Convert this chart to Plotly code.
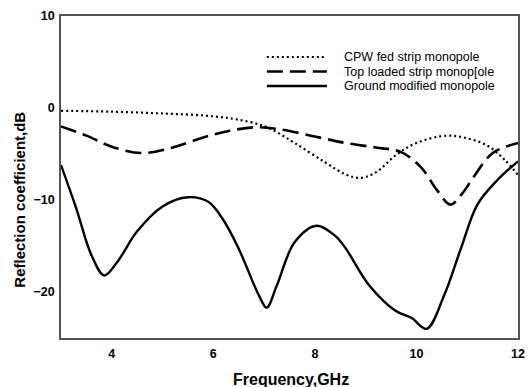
import plotly.graph_objects as go

# ---- data ----
cpw_x = [3.0, 4.0, 5.0, 6.0, 6.7, 7.1, 7.6, 8.2, 8.6, 8.9, 9.2, 9.6, 10.0, 10.6, 11.0, 11.4, 11.75, 12.0]
cpw_y = [-0.3, -0.4, -0.6, -0.9, -1.5, -2.2, -3.8, -5.9, -7.2, -7.6, -7.0, -5.1, -3.8, -3.0, -3.3, -4.1, -5.7, -7.3]

top_x = [3.0, 3.5, 4.0, 4.6, 5.2, 5.8, 6.3, 6.8, 7.3, 8.0, 8.6, 9.2, 9.7, 10.1, 10.4, 10.67, 10.9, 11.15, 11.5, 12.0]
top_y = [-2.0, -3.0, -4.2, -4.9, -4.3, -3.2, -2.5, -2.1, -2.3, -3.1, -3.8, -4.3, -4.8, -6.5, -8.9, -10.5, -9.3, -7.3, -4.9, -3.8]

gnd_x = [3.0, 3.3, 3.6, 3.85, 4.1, 4.5, 5.0, 5.5, 5.9, 6.2, 6.5, 6.9, 7.05, 7.25, 7.6, 8.03, 8.4, 8.6, 9.06, 9.58, 9.9, 10.2, 10.55, 10.88, 11.2, 11.6, 12.0]
gnd_y = [-6.2, -10.9, -16.0, -18.2, -16.8, -13.4, -10.7, -9.7, -10.2, -12.2, -15.3, -20.4, -21.7, -19.3, -14.6, -12.8, -13.9, -15.2, -19.2, -22.0, -22.8, -24.0, -20.3, -15.2, -10.5, -7.8, -5.8]

series_names = ["CPW fed strip monopole", "Top loaded strip monop[ole", "Ground modified monopole"]

x_ticks = [4, 6, 8, 10, 12]
y_ticks = [-20, -10, 0, 10]

FONT = "Arial, 'Liberation Sans', sans-serif"
DOT = "2px,3px"
DASH = "16px,7px"

fig = go.Figure()
fig.add_trace(go.Scatter(x=cpw_x, y=cpw_y, mode="lines", line=dict(color="black", width=2.2, dash=DOT, shape="spline", smoothing=1.0), showlegend=False))
fig.add_trace(go.Scatter(x=top_x, y=top_y, mode="lines", line=dict(color="black", width=2.6, dash=DASH, shape="spline", smoothing=1.0), showlegend=False))
fig.add_trace(go.Scatter(x=gnd_x, y=gnd_y, mode="lines", line=dict(color="black", width=2.4, shape="spline", smoothing=1.0), showlegend=False))

axis_common = dict(showgrid=False, zeroline=False, showline=True, mirror=True,
                   linecolor="#555555", linewidth=1.5, ticks="",
                   tickfont=dict(family=FONT, size=12.5, color="black", weight="bold"))

fig.update_xaxes(range=[3, 12], tickvals=x_ticks, ticklabelstandoff=3, **axis_common)
fig.update_yaxes(range=[-25, 10], tickvals=y_ticks, ticklabelstandoff=2, **axis_common)

# manual legend
W, H = 464.0, 322.0
def px_x(p):
    return (p - 61) / W
def px_y(p):
    return (338 - p) / H

leg_rows = [57, 71.5, 86]
leg_dash = [DOT, DASH, "solid"]
leg_w = [2.2, 2.6, 2.4]
shapes = []
annotations = []
for name, row, d, w in zip(series_names, leg_rows, leg_dash, leg_w):
    shapes.append(dict(type="line", xref="paper", yref="paper",
                       x0=px_x(270), x1=px_x(331), y0=px_y(row), y1=px_y(row),
                       line=dict(color="black", width=w, dash=d)))
    annotations.append(dict(text=name, xref="paper", yref="paper", x=px_x(347), y=px_y(row),
                            xanchor="left", yanchor="middle", showarrow=False, borderpad=0,
                            font=dict(family=FONT, size=12.5, color="black")))

annotations.append(dict(text="Frequency,GHz", xref="paper", yref="paper", x=px_x(295), y=px_y(379),
                        xanchor="center", yanchor="middle", showarrow=False,
                        font=dict(family=FONT, size=16, color="black", weight="bold")))
annotations.append(dict(text="Reflection coefficient,dB", xref="paper", yref="paper", x=px_x(18), y=px_y(200),
                        xanchor="center", yanchor="middle", showarrow=False, textangle=-90,
                        font=dict(family=FONT, size=15, color="black", weight="bold")))

fig.update_layout(width=531, height=387, margin=dict(l=61, r=6, t=16, b=49),
                  paper_bgcolor="white", plot_bgcolor="white",
                  shapes=shapes, annotations=annotations, showlegend=False)

fig.write_html("out.html")
